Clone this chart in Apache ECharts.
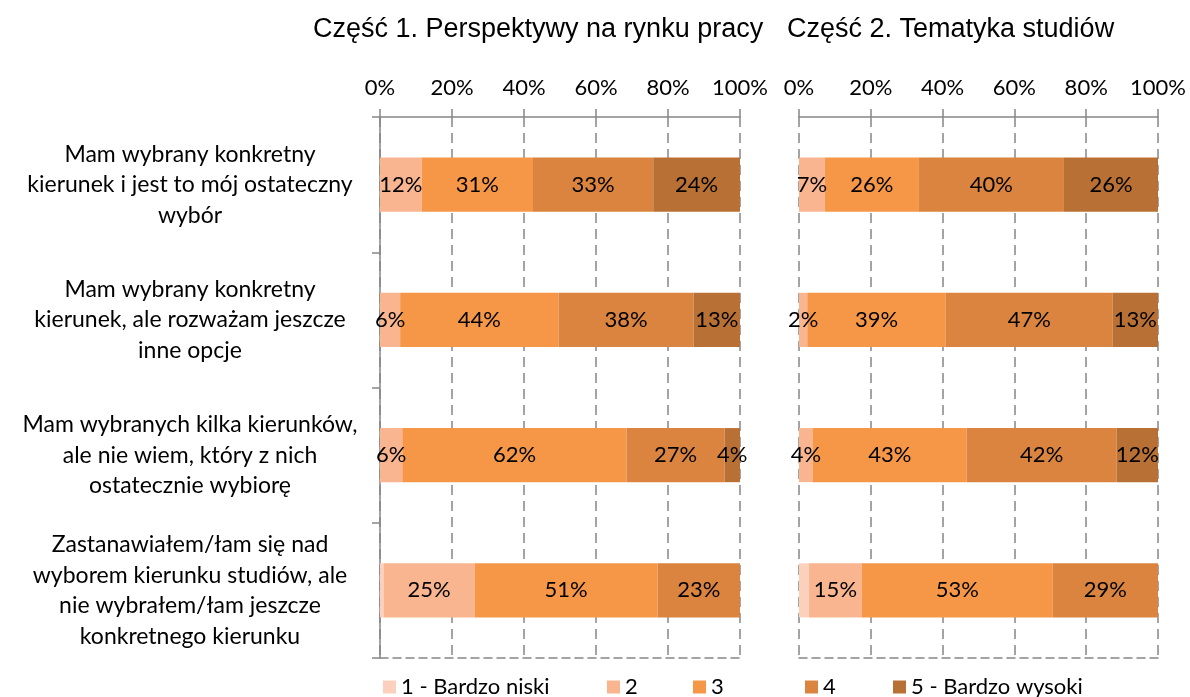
<!DOCTYPE html>
<html>
<head>
<meta charset="utf-8">
<script src="https://cdn.jsdelivr.net/npm/echarts@6/dist/echarts.min.js"></script>
<style>
  html, body { margin: 0; padding: 0; background: #fff; }
  #main { width: 1190px; height: 697px; }
</style>
</head>
<body>
<div id="main"></div>
<script>
// kategorie (oś Y)
var categories = [
  'Mam wybrany konkretny\nkierunek i jest to mój ostateczny\nwybór',
  'Mam wybrany konkretny\nkierunek, ale rozważam jeszcze\ninne opcje',
  'Mam wybranych kilka kierunków,\nale nie wiem, który z nich\nostatecznie wybiorę',
  'Zastanawiałem/łam się nad\nwyborem kierunku studiów, ale\nnie wybrałem/łam jeszcze\nkonkretnego kierunku'
];
var seriesNames = ['1 - Bardzo niski', '2', '3', '4', '5 - Bardzo wysoki'];
var tickValues = [0, 20, 40, 60, 80, 100];
var panelTitles = ['Część 1. Perspektywy na rynku pracy', 'Część 2. Tematyka studiów'];

// Część 1 - udział procentowy
var p1_s1 = [0, 0, 0, 1.0];
var p1_s2 = [11.6, 5.6, 6.2, 25.3];
var p1_s3 = [30.9, 44.0, 62.3, 50.8];
var p1_s4 = [33.4, 37.5, 27.2, 22.9];
var p1_s5 = [24.1, 12.9, 4.3, 0];

// Część 2
var p2_s1 = [0, 0, 0, 2.8];
var p2_s2 = [7.2, 2.3, 3.9, 14.7];
var p2_s3 = [26.2, 38.6, 42.8, 53.2];
var p2_s4 = [40.4, 46.5, 41.8, 29.3];
var p2_s5 = [26.2, 12.6, 11.5, 0];

var colors = ['#FBD0BC', '#F8B590', '#F69748', '#DA843F', '#B97034'];
var legendLeft = [383, 607, 693, 805, 893];

var myChart = echarts.init(document.getElementById('main'));

var font = 'Lato';
var axisGray = '#868686';

function valueAxis(gridIndex, top) {
  return {
    type: 'value',
    gridIndex: gridIndex,
    position: top ? 'top' : 'bottom',
    min: 0,
    max: 100,
    interval: 20,
    axisLine: { show: true, lineStyle: { color: axisGray, width: 1.5, type: top ? 'solid' : [8, 5] } },
    axisTick: { show: top, length: 8, lineStyle: { color: axisGray, width: 1.5 } },
    axisLabel: {
      show: top,
      margin: 18,
      fontFamily: font,
      fontSize: 22,
      color: '#000',
      formatter: function (v) { return tickValues.indexOf(v) >= 0 ? v + '%' : ''; }
    },
    splitLine: { show: top, lineStyle: { color: axisGray, width: 1.5, type: [10, 6] } }
  };
}

function catAxis(gridIndex, showLabels) {
  return {
    type: 'category',
    gridIndex: gridIndex,
    inverse: true,
    data: categories,
    axisLine: { show: showLabels, lineStyle: { color: axisGray, width: 1.5 } },
    axisTick: { show: showLabels, length: 8, lineStyle: { color: axisGray, width: 1.5 } },
    axisLabel: {
      show: showLabels,
      align: 'center',
      margin: 190,
      fontFamily: font,
      fontSize: 23,
      lineHeight: 30.5,
      padding: [4, 0, 0, 0],
      color: '#000'
    }
  };
}

var panels = [
  [p1_s1, p1_s2, p1_s3, p1_s4, p1_s5],
  [p2_s1, p2_s2, p2_s3, p2_s4, p2_s5]
];

var series = [];
panels.forEach(function (panel, p) {
  panel.forEach(function (vals, i) {
    series.push({
      name: seriesNames[i],
      type: 'bar',
      stack: 'panel' + p,
      xAxisIndex: p * 2,
      yAxisIndex: p,
      barWidth: '40%',
      itemStyle: { color: colors[i] },
      label: {
        show: i > 0,
        position: 'inside',
        fontFamily: font,
        fontSize: 22,
        color: '#000',
        formatter: function (d) { return d.value > 0 ? Math.round(d.value) + '%' : ''; }
      },
      data: vals
    });
  });
});

var legends = seriesNames.map(function (name, i) {
  return {
    data: [name],
    left: legendLeft[i],
    top: 676,
    padding: 0,
    icon: 'rect',
    itemWidth: 13,
    itemHeight: 13,
    selectedMode: false,
    textStyle: { fontFamily: font, fontSize: 22, color: '#000' }
  };
});

var option = {
  backgroundColor: '#fff',
  animation: false,
  color: colors,
  title: [
    { text: panelTitles[0], left: 313, top: 16, padding: 0,
      textStyle: { fontFamily: 'Liberation Sans', fontSize: 27, fontWeight: 'normal', color: '#000' } },
    { text: panelTitles[1], left: 787, top: 16, padding: 0,
      textStyle: { fontFamily: 'Liberation Sans', fontSize: 27, fontWeight: 'normal', color: '#000' } }
  ],
  legend: legends,
  grid: [
    { left: 380, top: 117, width: 360, height: 541 },
    { left: 799, top: 117, width: 359, height: 541 }
  ],
  xAxis: [valueAxis(0, true), valueAxis(0, false), valueAxis(1, true), valueAxis(1, false)],
  yAxis: [catAxis(0, true), catAxis(1, false)],
  series: series
};

myChart.setOption(option);
window.onresize = function () {
  myChart.resize();
};
</script>
</body>
</html>
